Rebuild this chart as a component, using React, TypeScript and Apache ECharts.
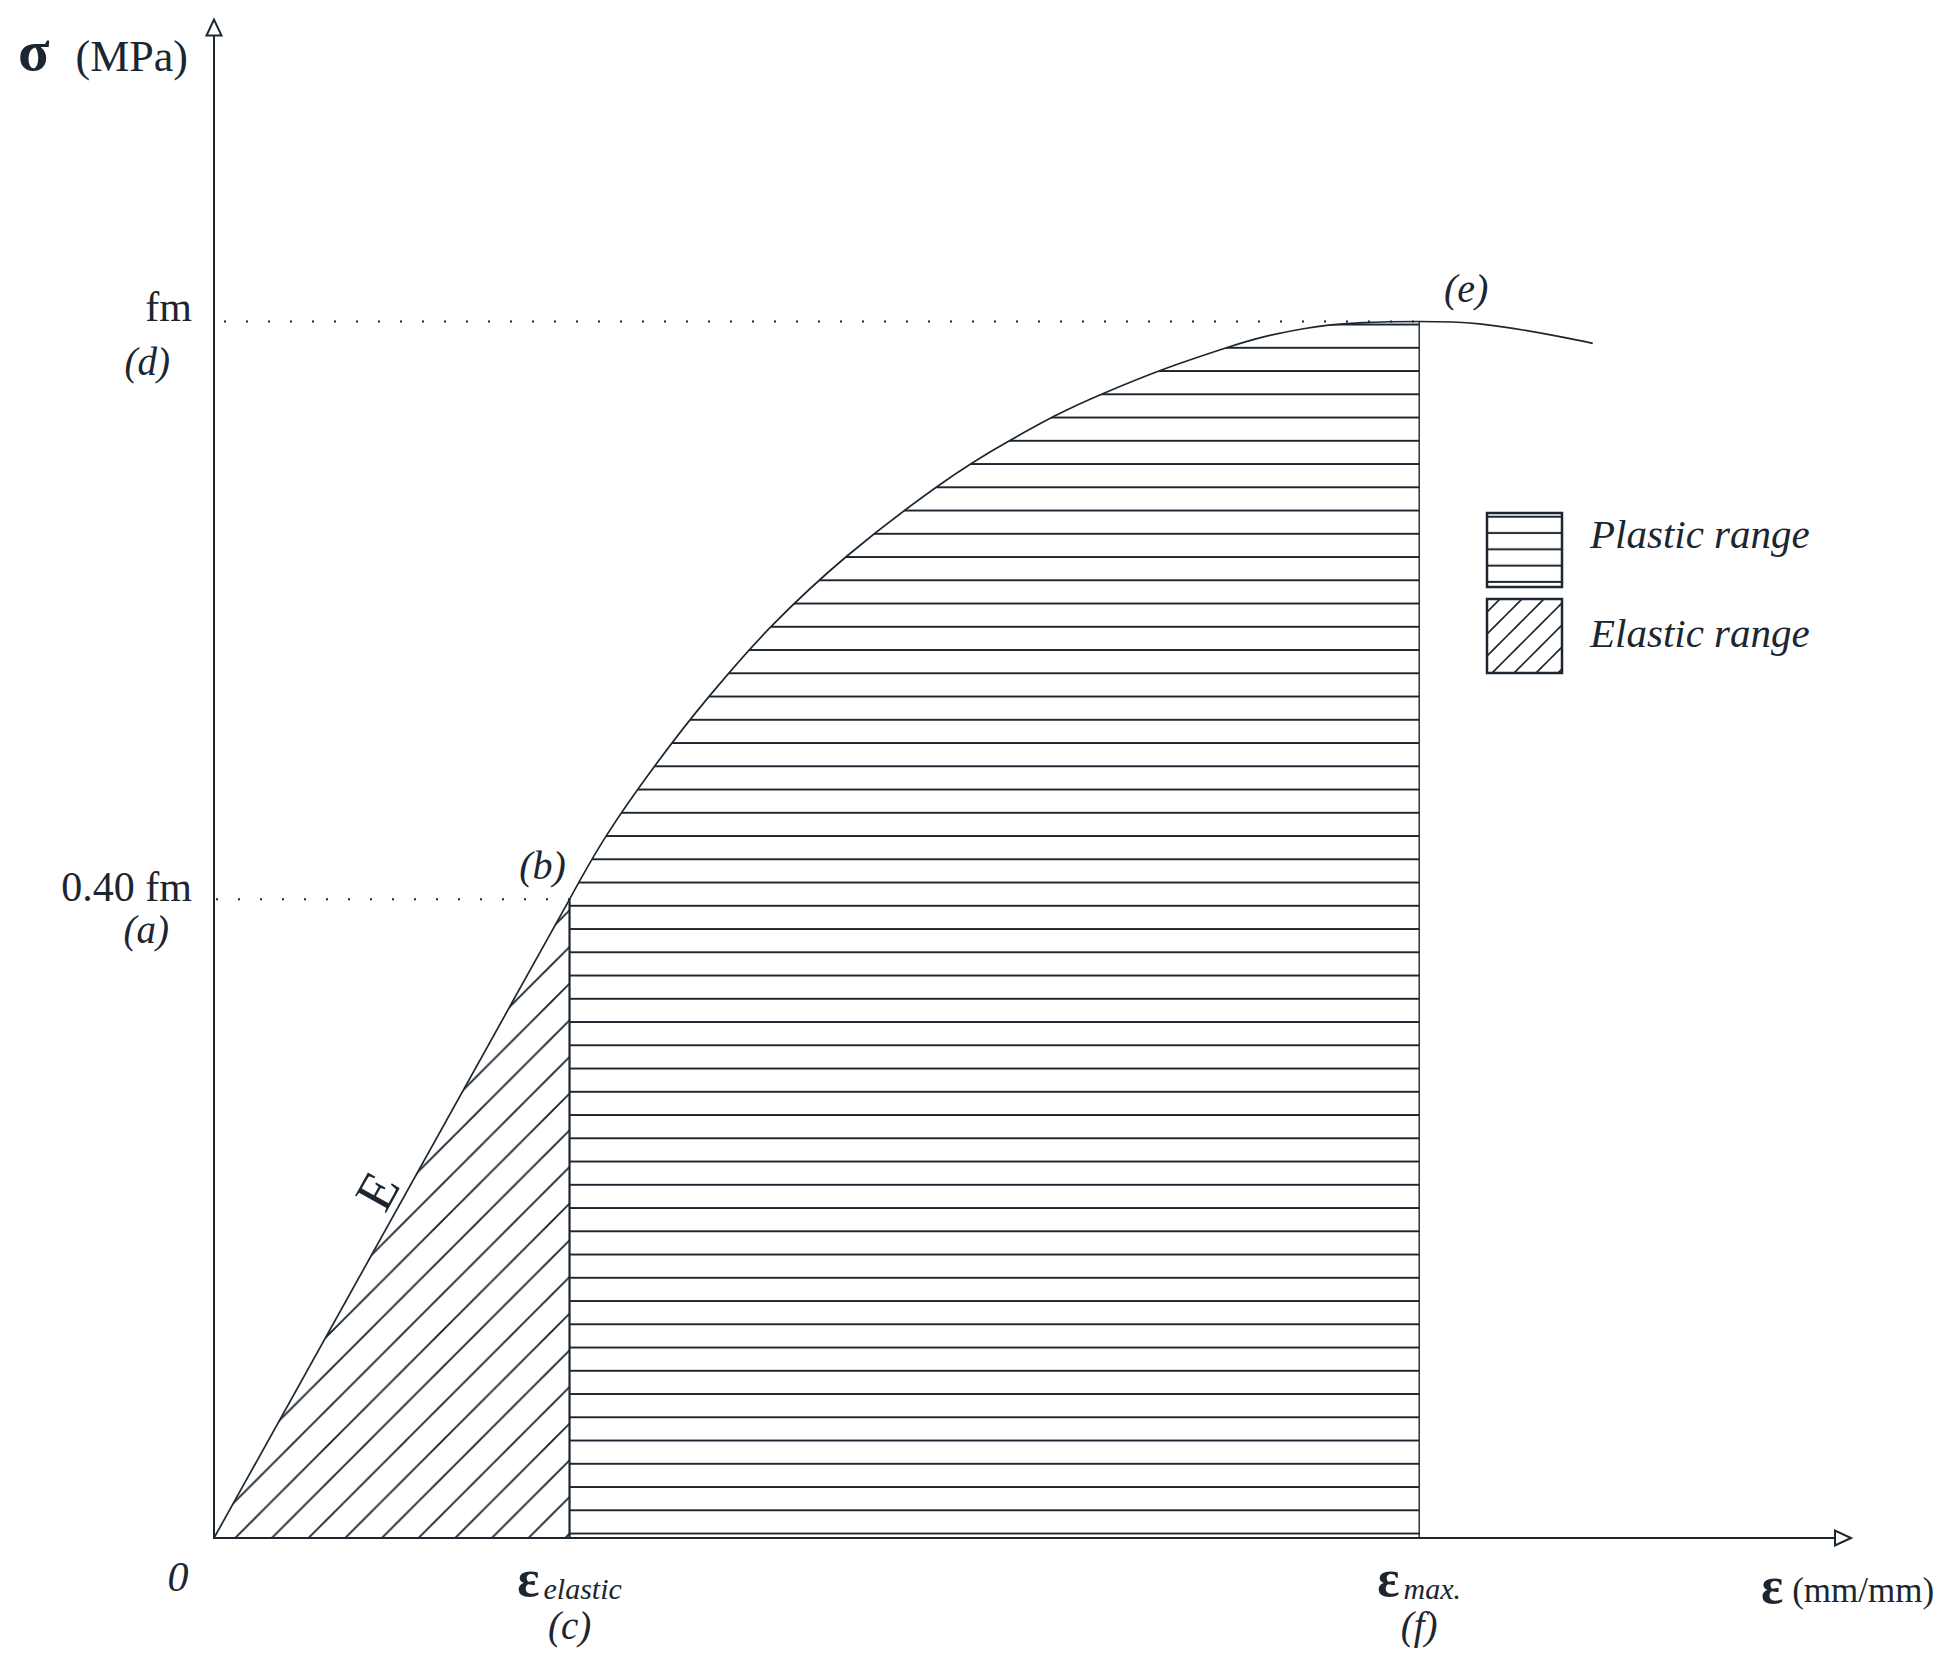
import React, { useEffect, useRef } from 'react';
import * as echarts from 'echarts';

const INK = '#1c2630';
const FONT = '"Liberation Serif", "Times New Roman", serif';

// Normalised axes: strain as ε / εmax, stress as σ / fm (schematic diagram)
const strainElastic = 0.295; // (c)
const stressElastic = 0.525; // drawn height of point (b), labelled "0.40 fm"
const strainMax = 1; // (f)
const stressMax = 1; // (d) fm

// Stress–strain curve beyond the elastic limit
const curveStrain = [0.295, 0.326, 0.366, 0.411, 0.463, 0.525, 0.601, 0.66, 0.736, 0.842, 0.904, 0.954, 1.0, 1.05, 1.144];
const curveStress = [0.525, 0.578, 0.635, 0.692, 0.75, 0.807, 0.865, 0.902, 0.94, 0.979, 0.994, 0.999, 1.0, 0.998, 0.982];

const yTickValues = [stressElastic, stressMax];
const yTickLabels = ['0.40 fm', 'fm'];
const yTickPoints = ['(a)', '(d)'];
const xTickValues = [strainElastic, strainMax];
const xTickSubs = ['elastic', 'max.'];
const xTickPoints = ['(c)', '(f)'];
const legendNames = ['Plastic range', 'Elastic range'];
const pointLabels = ['(b)', '(e)', 'E', '0'];

function svgPattern(w: number, h: number, body: string, sw: number) {
  const svg = `<svg xmlns="http://www.w3.org/2000/svg" width="${w}" height="${h}" viewBox="0 0 ${w} ${h}"><g stroke="${INK}" stroke-width="${sw}" fill="none">${body}</g></svg>`;
  return {
    image: 'data:image/svg+xml;charset=utf-8,' + encodeURIComponent(svg),
    repeat: 'repeat',
    imageWidth: w,
    imageHeight: h,
  };
}
const hPattern = (h: number, y: number, sw: number) =>
  svgPattern(24, h, `<line x1="-1" y1="${y}" x2="25" y2="${y}"/>`, sw);
const dPattern = (s: number, c: number, sw: number) =>
  svgPattern(
    s,
    s,
    `<line x1="-2" y1="${c + 2}" x2="${c + 2}" y2="-2"/><line x1="${c - 2}" y1="${s + 2}" x2="${s + 2}" y2="${c - 2}"/>`,
    sw
  );

export default function App() {
  const ref = useRef<HTMLDivElement>(null);
  useEffect(() => {
    document.body.style.margin = '0';
    const chart = echarts.init(ref.current!, null, { renderer: 'svg' });

    const curvePoints = curveStrain.map((x, i) => [x, curveStress[i]]);
    const plasticPoints = curvePoints.filter((p) => p[0] <= strainMax + 1e-9);
    const pB = [strainElastic, stressElastic];
    const pE = [strainMax, stressMax];
    const pMod = [strainElastic * 0.54, stressElastic * 0.54];
    const pO = [0, 0];

    const plasticFill = hPattern(23.25, 22.3, 2);
    const elasticFill = dPattern(36.67, 13, 1.8);
    const legendPlastic = hPattern(16.3, 11.4, 2);
    const legendElastic = dPattern(22, 9, 1.6);

    const lbl = (fs: number, italic: boolean) => ({
      fontFamily: FONT,
      fontSize: fs,
      fontStyle: italic ? 'italic' : 'normal',
      color: INK,
    });
    const annot = (fs: number, italic: boolean) => ({
      ...lbl(fs, italic),
      textBorderWidth: 0,
      textBorderColor: 'transparent',
      opacity: 1,
    });

    const option: any = {
      animation: false,
      backgroundColor: '#ffffff',
      grid: { left: 214, right: 112, top: 35.6, bottom: 138 },
      xAxis: {
        type: 'value',
        min: 0,
        max: 1.345,
        splitLine: { show: false },
        axisTick: { show: false },
        axisLine: {
          onZero: false,
          lineStyle: { color: INK, width: 2 },
          symbol: ['none', 'emptyTriangle'],
          symbolSize: [15, 16],
          symbolOffset: [0, 8],
        },
        name: '{e|ε}{u|(mm/mm)}',
        nameLocation: 'end',
        nameGap: -74,
        nameTextStyle: {
          align: 'left',
          verticalAlign: 'middle',
          padding: [95, 0, 0, 0],
          rich: {
            e: { ...lbl(52, false), fontWeight: 'bold', lineHeight: 44 },
            u: { ...lbl(35, false), lineHeight: 44, verticalAlign: 'bottom', padding: [0, 0, 0, 9] },
          },
        },
        axisLabel: {
          customValues: xTickValues,
          margin: 16,
          formatter: (v: number) => {
            const i = xTickValues.findIndex((t) => Math.abs(t - v) < 1e-6);
            if (i < 0) return '';
            return `{eps|ε}{sub|${xTickSubs[i]}}\n{pt|${xTickPoints[i]}}`;
          },
          rich: {
            eps: { ...lbl(52, false), fontWeight: 'bold', lineHeight: 49 },
            sub: { ...lbl(30, true), lineHeight: 49, verticalAlign: 'bottom', padding: [0, 0, 0, 4] },
            pt: { ...lbl(39, true), lineHeight: 44 },
          },
        },
      },
      yAxis: {
        type: 'value',
        min: 0,
        max: 1.235,
        splitLine: { show: false },
        axisTick: { show: false },
        axisLine: {
          onZero: false,
          lineStyle: { color: INK, width: 2 },
          symbol: ['none', 'emptyTriangle'],
          symbolSize: [15, 16],
          symbolOffset: [0, 8],
        },
        name: '{s|σ}{u|(MPa)}',
        nameLocation: 'end',
        nameGap: -15.2,
        nameTextStyle: {
          align: 'right',
          verticalAlign: 'middle',
          padding: [0, 26, 0, 0],
          rich: {
            s: { ...lbl(58, false), fontWeight: 'bold', lineHeight: 56 },
            u: { ...lbl(44, false), lineHeight: 56, verticalAlign: 'bottom', padding: [0, 0, 0, 26] },
          },
        },
        axisLabel: {
          customValues: yTickValues,
          margin: 22,
          formatter: (v: number) => {
            const i = yTickValues.findIndex((t) => Math.abs(t - v) < 1e-6);
            if (i < 0) return '';
            const k = i === 0 ? 'lo' : 'hi';
            return `{${k}Main|${yTickLabels[i]}}\n{${k}Sub|${yTickPoints[i]}}`;
          },
          rich: {
            loMain: { ...lbl(42, false), lineHeight: 60 },
            loSub: { ...lbl(39, true), lineHeight: 24, padding: [0, 23, 0, 0] },
            hiMain: { ...lbl(42, false), lineHeight: 80 },
            hiSub: { ...lbl(39, true), lineHeight: 28, padding: [0, 22, 0, 0] },
          },
        },
      },
      series: [
        {
          name: legendNames[1],
          type: 'line',
          data: [pO, pB],
          symbol: 'none',
          silent: true,
          z: 3,
          itemStyle: { color: INK },
          lineStyle: { color: INK, width: 1.7 },
          areaStyle: { color: elasticFill, opacity: 1 },
        },
        {
          name: legendNames[0],
          type: 'line',
          data: plasticPoints,
          smooth: 0.4,
          symbol: 'none',
          silent: true,
          z: 2,
          itemStyle: { color: INK },
          lineStyle: { width: 0, opacity: 0 },
          areaStyle: { color: plasticFill, opacity: 1 },
        },
        {
          name: 'curve',
          type: 'line',
          data: curvePoints,
          smooth: 0.4,
          symbol: 'none',
          silent: true,
          z: 4,
          itemStyle: { color: INK },
          lineStyle: { color: INK, width: 1.7 },
        },
        {
          name: 'elastic limit',
          type: 'line',
          data: [[strainElastic, 0], pB],
          symbol: 'none',
          silent: true,
          z: 4,
          lineStyle: { color: INK, width: 2.2 },
        },
        {
          name: 'max strain',
          type: 'line',
          data: [[strainMax, 0], pE],
          symbol: 'none',
          silent: true,
          z: 4,
          lineStyle: { color: INK, width: 1.4 },
        },
        {
          name: 'fm guide',
          type: 'line',
          data: [[0, stressMax], pE],
          symbol: 'none',
          silent: true,
          z: 1,
          lineStyle: { color: INK, width: 2, type: [2, 20], dashOffset: 12 },
        },
        {
          name: '0.40 fm guide',
          type: 'line',
          data: [[0, stressElastic], pB],
          symbol: 'none',
          silent: true,
          z: 1,
          lineStyle: { color: INK, width: 2, type: [2, 20], dashOffset: 20 },
        },
        {
          name: 'annotations',
          type: 'scatter',
          symbol: 'circle',
          symbolSize: 0.01,
          silent: true,
          z: 5,
          itemStyle: { color: INK },
          data: [
            { value: pB, label: { formatter: pointLabels[0], offset: [-27, -34], ...annot(40, true) } },
            { value: pE, label: { formatter: pointLabels[1], offset: [47, -33], ...annot(40, true) } },
            { value: pMod, label: { formatter: pointLabels[2], offset: [-12, -26], rotate: 61, ...annot(54, false) } },
            { value: pO, label: { formatter: pointLabels[3], offset: [-36, 39], ...annot(42, true) } },
          ],
          label: { show: true, position: 'inside', textBorderWidth: 0 },
        },
      ],
      graphic: [
        {
          type: 'rect',
          silent: true,
          shape: { x: 1487, y: 513, width: 75, height: 74 },
          style: { fill: legendPlastic, stroke: INK, lineWidth: 2.5 },
        },
        {
          type: 'rect',
          silent: true,
          shape: { x: 1487, y: 599, width: 75, height: 74 },
          style: { fill: legendElastic, stroke: INK, lineWidth: 2.5 },
        },
        {
          type: 'text',
          silent: true,
          x: 1590,
          y: 534,
          style: {
            text: legendNames[0],
            font: `italic 41px ${FONT}`,
            fill: INK,
            align: 'left',
            verticalAlign: 'middle',
          },
        },
        {
          type: 'text',
          silent: true,
          x: 1590,
          y: 633,
          style: {
            text: legendNames[1],
            font: `italic 41px ${FONT}`,
            fill: INK,
            align: 'left',
            verticalAlign: 'middle',
          },
        },
      ],
    };

    chart.setOption(option);
    return () => chart.dispose();
  }, []);
  return <div ref={ref} style={{ width: 1947, height: 1676 }} />;
}
